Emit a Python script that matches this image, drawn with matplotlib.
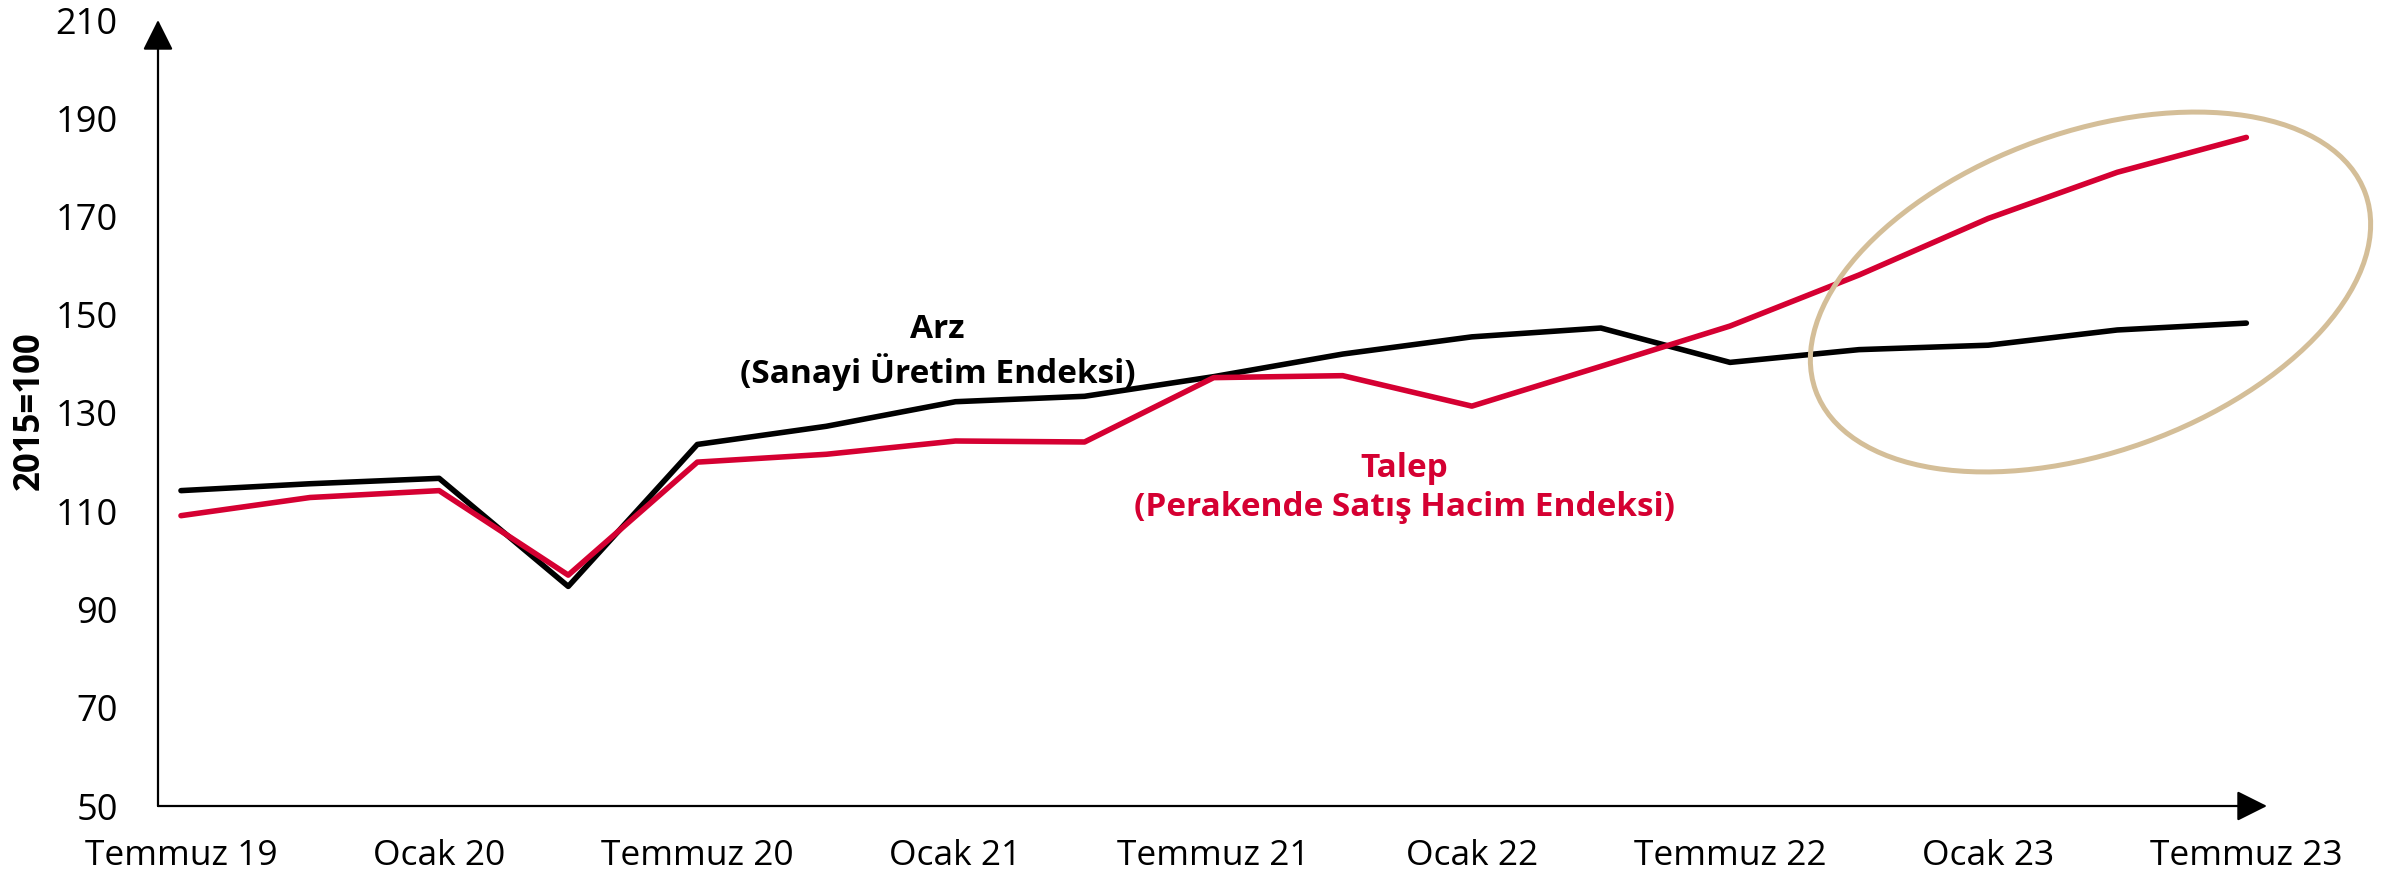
import matplotlib
matplotlib.use("Agg")
import matplotlib.pyplot as plt
from matplotlib.patches import Ellipse

plt.rcParams["font.family"] = ["Open Sans", "DejaVu Sans"]

# quarterly data, Temmuz 19 .. Temmuz 23
quarters = list(range(17))
tick_labels = ["Temmuz 19", "Ocak 20", "Temmuz 20", "Ocak 21", "Temmuz 21",
               "Ocak 22", "Temmuz 22", "Ocak 23", "Temmuz 23"]
arz = [114.2, 115.6, 116.7, 94.7, 123.6, 127.3, 132.3, 133.4, 137.4,
       142.0, 145.5, 147.3, 140.3, 142.9, 143.8, 146.9, 148.3]
talep = [109.1, 112.8, 114.2, 97.0, 120.0, 121.6, 124.3, 124.1, 137.2,
         137.6, 131.4, 139.5, 147.7, 158.1, 169.6, 179.0, 186.1]

RED = "#D50032"
TAN = "#D4BE98"

W, H = 2400, 884
fig = plt.figure(figsize=(24, 8.84), dpi=100)
ax = fig.add_axes([158 / W, (H - 806) / H, (2267 - 158) / W, (806 - 20) / H])

ax.plot(quarters, arz, color="black", lw=4, solid_capstyle="round", zorder=3)
ax.plot(quarters, talep, color=RED, lw=4, solid_capstyle="round", zorder=3)

ax.set_xlim(-0.178, 16.16)
ax.set_ylim(50, 210)
ax.set_yticks(range(50, 211, 20))
ax.set_xticks(quarters[::2])
ax.set_xticklabels(tick_labels)
ax.tick_params(axis="y", length=0, pad=29, labelsize=26)
ax.tick_params(axis="x", length=0, pad=24, labelsize=25.5)

for s in ["top", "right", "left", "bottom"]:
    ax.spines[s].set_visible(False)

# axis arrows
ax.annotate("", xy=(0, 1), xytext=(0, 0), xycoords="axes fraction",
            arrowprops=dict(arrowstyle="-|>", mutation_scale=47, lw=1.6,
                            color="black", shrinkA=0, shrinkB=0))
ax.annotate("", xy=(1, 0), xytext=(0, 0), xycoords="axes fraction",
            arrowprops=dict(arrowstyle="-|>", mutation_scale=47, lw=1.6,
                            color="black", shrinkA=0, shrinkB=0))

fig.text(30 / W, 1 - 411 / H, "2015=100", rotation=90, ha="center",
         va="center", fontsize=25, fontweight="bold")

ax.text(5.86, 142.4, "Arz\n(Sanayi Üretim Endeksi)", ha="center", va="center",
        fontsize=24, fontweight="bold", color="black", linespacing=1.25)
ax.text(9.48, 114.7, "Talep\n(Perakende Satış Hacim Endeksi)", ha="center",
        va="center", fontsize=24, fontweight="bold", color=RED, linespacing=1.25)

# highlight ellipse
ell = Ellipse((20.905, 5.92), 5.84, 3.20, angle=19.7, fill=False,
              edgecolor=TAN, lw=3.6, transform=fig.dpi_scale_trans, zorder=2)
fig.add_artist(ell)

fig.savefig("out.png", dpi=100)
